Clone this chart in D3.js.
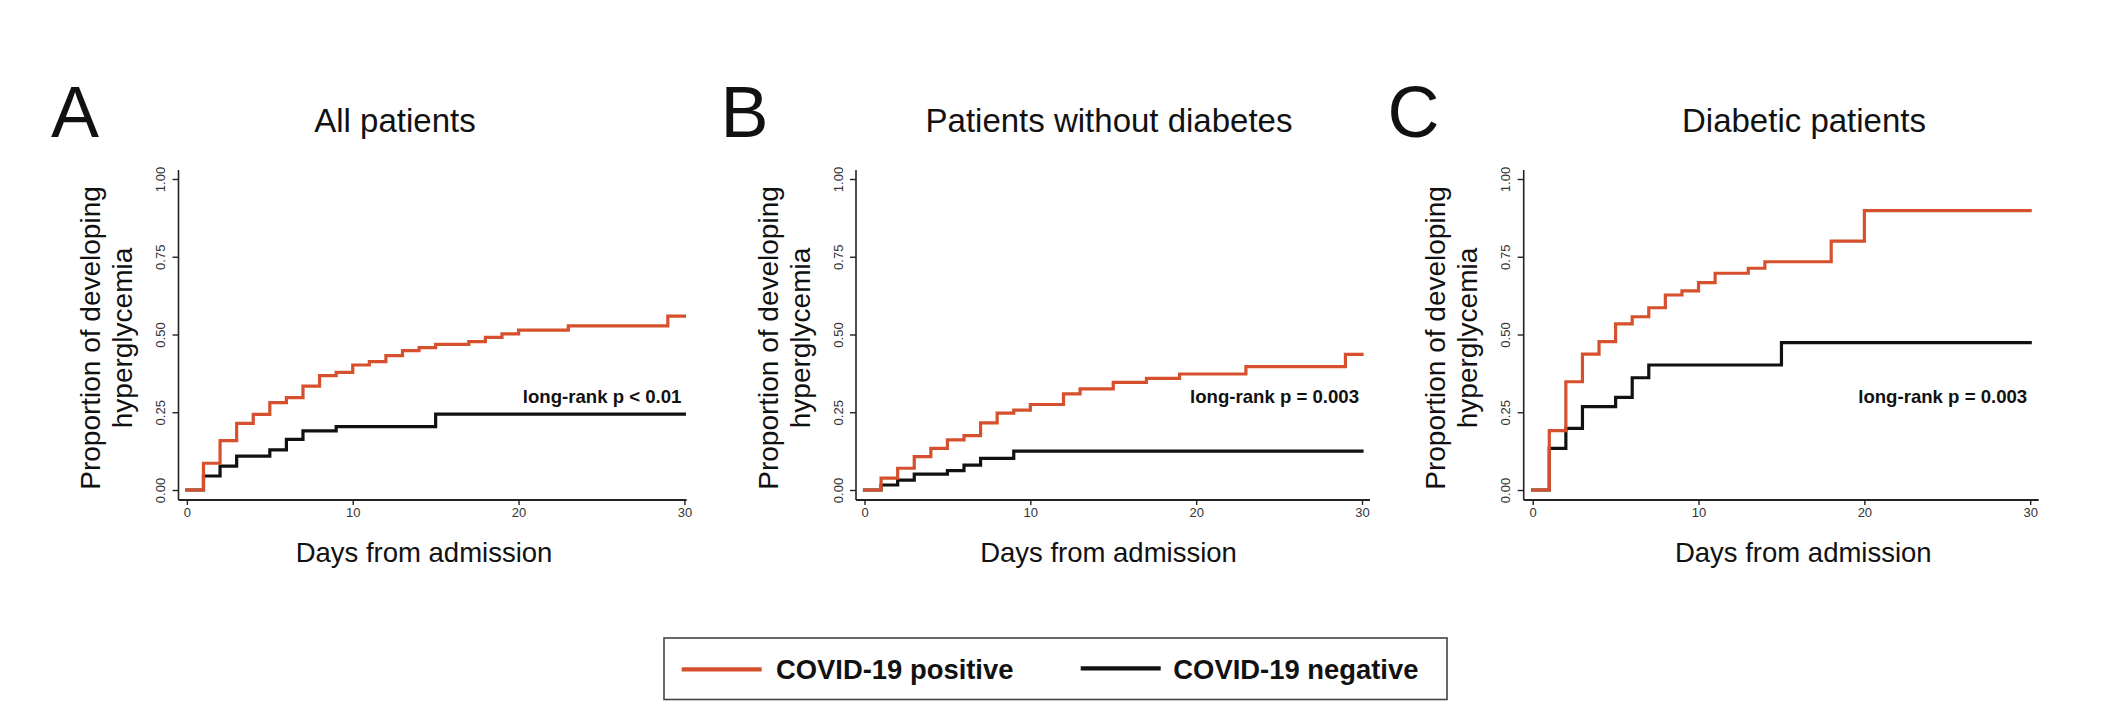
<!DOCTYPE html>
<html>
<head>
<meta charset="utf-8">
<script src="https://cdn.jsdelivr.net/npm/d3@7"></script>
<style>
  html, body { margin: 0; padding: 0; background: #fff; }
  svg { display: block; font-family: "Liberation Sans", Arial, Helvetica, sans-serif; }
</style>
</head>
<body>
<svg id="chart" width="2118" height="718"></svg>
<script>
// ---------------- DATA ----------------
const panelLetters = ["A", "B", "C"];
const panelTitles = ["All patients", "Patients without diabetes", "Diabetic patients"];
const pValueLabels = ["long-rank p < 0.01", "long-rank p = 0.003", "long-rank p = 0.003"];
const seriesNames = ["COVID-19 positive", "COVID-19 negative"];
const xTickValues = [0, 10, 20, 30];
const yTickValues = [0, 0.25, 0.50, 0.75, 1.00];
const xAxisTitle = "Days from admission";
const yAxisTitleLines = ["Proportion of developing", "hyperglycemia"];

// Panel A: all patients
const daysA_pos = [0, 1, 2, 3, 4, 5, 6, 7, 8, 9, 10, 11, 12, 13, 14, 15, 17, 18, 19, 20, 23, 29, 30];
const propA_pos = [0, 0.086, 0.159, 0.214, 0.243, 0.281, 0.297, 0.334, 0.368, 0.378, 0.402, 0.413, 0.432, 0.448, 0.458, 0.468, 0.477, 0.491, 0.502, 0.514, 0.528, 0.559, 0.559];
const daysA_neg = [0, 1, 2, 3, 5, 6, 7, 9, 15, 30];
const propA_neg = [0, 0.045, 0.077, 0.109, 0.129, 0.163, 0.190, 0.204, 0.244, 0.244];

// Panel B: patients without diabetes
const daysB_pos = [0, 1, 2, 3, 4, 5, 6, 7, 8, 9, 10, 12, 13, 15, 17, 19, 23, 29, 30];
const propB_pos = [0, 0.038, 0.070, 0.107, 0.134, 0.161, 0.175, 0.216, 0.247, 0.257, 0.275, 0.309, 0.325, 0.346, 0.359, 0.373, 0.397, 0.436, 0.436];
const daysB_neg = [0, 1, 2, 3, 5, 6, 7, 9, 30];
const propB_neg = [0, 0.016, 0.032, 0.051, 0.062, 0.080, 0.102, 0.125, 0.125];

// Panel C: diabetic patients
const daysC_pos = [0, 1, 2, 3, 4, 5, 6, 7, 8, 9, 10, 11, 13, 14, 18, 20, 30];
const propC_pos = [0, 0.191, 0.348, 0.437, 0.477, 0.534, 0.557, 0.586, 0.627, 0.640, 0.667, 0.697, 0.713, 0.734, 0.800, 0.898, 0.898];
const daysC_neg = [0, 1, 2, 3, 5, 6, 7, 15, 30];
const propC_neg = [0, 0.134, 0.198, 0.268, 0.298, 0.361, 0.402, 0.474, 0.474];

// ---------------- LAYOUT / STYLE ----------------
const colors = { pos: "#d6502d", neg: "#111111" };
const layout = [
  { axisX: 178.5, x0: 186.9, xEnd: 686.6, titleX: 395, xLabelX: 424, letterX: 51 },
  { axisX: 856.0, x0: 864.5, xEnd: 1370, titleX: 1109, xLabelX: 1108.5, letterX: 720.5 },
  { axisX: 1523.7, x0: 1532.7, xEnd: 2038.7, titleX: 1804, xLabelX: 1803.3, letterX: 1387.5 }
];
const plotWidth = 497.5;   // pixels for 30 days
const yTop = 179, yZero = 490, axisBottomY = 500, axisTopY = 170;

const seriesData = [
  { pos: [daysA_pos, propA_pos], neg: [daysA_neg, propA_neg] },
  { pos: [daysB_pos, propB_pos], neg: [daysB_neg, propB_neg] },
  { pos: [daysC_pos, propC_pos], neg: [daysC_neg, propC_neg] }
];

const svg = d3.select("#chart");
const y = d3.scaleLinear().domain([0, 1]).range([yZero, yTop]);

layout.forEach((L, i) => {
  const x = d3.scaleLinear().domain([0, 30]).range([L.x0, L.x0 + plotWidth]);
  const g = svg.append("g");

  // panel letter
  g.append("text").attr("x", L.letterX).attr("y", 137)
    .attr("font-size", 72).attr("fill", "#111").text(panelLetters[i]);

  // title
  g.append("text").attr("x", L.titleX).attr("y", 131.5)
    .attr("text-anchor", "middle").attr("font-size", 33).attr("fill", "#111")
    .text(panelTitles[i]);

  // axis lines
  g.append("line").attr("x1", L.axisX).attr("x2", L.axisX)
    .attr("y1", axisTopY).attr("y2", axisBottomY)
    .attr("stroke", "#222").attr("stroke-width", 1.6);
  g.append("line").attr("x1", L.axisX).attr("x2", L.xEnd)
    .attr("y1", axisBottomY).attr("y2", axisBottomY)
    .attr("stroke", "#222").attr("stroke-width", 2.2);

  // x axis (ticks + labels)
  const xAxis = d3.axisBottom(x).tickValues(xTickValues).tickSize(5).tickSizeOuter(0).tickPadding(3);
  const gx = g.append("g").attr("transform", `translate(0,${axisBottomY})`).call(xAxis);
  gx.select(".domain").remove();
  gx.selectAll(".tick line").attr("stroke", "#222").attr("stroke-width", 1.4);
  gx.selectAll(".tick text").attr("font-size", 13).attr("fill", "#333")
    .attr("font-family", "Liberation Sans, Arial, sans-serif");

  // y axis ticks
  const yAxis = d3.axisLeft(y).tickValues(yTickValues).tickSize(6).tickSizeOuter(0)
    .tickFormat(d3.format(".2f"));
  const gy = g.append("g").attr("transform", `translate(${L.axisX},0)`).call(yAxis);
  gy.select(".domain").remove();
  gy.selectAll(".tick line").attr("stroke", "#222").attr("stroke-width", 1.4);
  gy.selectAll(".tick text")
    .attr("x", null).attr("dy", null)
    .attr("text-anchor", "middle")
    .attr("transform", "translate(-13.5,0) rotate(-90)")
    .attr("font-size", 13).attr("fill", "#333")
    .attr("font-family", "Liberation Sans, Arial, sans-serif");

  // y-axis title (two lines)
  yAxisTitleLines.forEach((t, k) => {
    g.append("text")
      .attr("transform", `translate(${L.axisX - 78.5 + k * 32},338) rotate(-90)`)
      .attr("text-anchor", "middle").attr("font-size", 28).attr("fill", "#111")
      .text(t);
  });

  // x-axis title
  g.append("text").attr("x", L.xLabelX).attr("y", 561.5)
    .attr("text-anchor", "middle").attr("font-size", 27.5).attr("fill", "#111")
    .text(xAxisTitle);

  // curves: negative first, positive on top
  const line = d3.line().x(d => x(d[0])).y(d => y(d[1])).curve(d3.curveStepAfter);
  ["neg", "pos"].forEach(key => {
    const [days, prop] = seriesData[i][key];
    const pts = days.map((d, j) => [d, prop[j]]);
    g.append("path").attr("d", line(pts))
      .attr("fill", "none").attr("stroke", colors[key])
      .attr("stroke-width", 3.2).attr("stroke-linejoin", "miter").attr("stroke-linecap", "square");
  });

  // p-value annotation
  g.append("text").attr("x", x(30) - 3).attr("y", 403)
    .attr("text-anchor", "end").attr("font-size", 18.6).attr("font-weight", "bold")
    .attr("fill", "#111").text(pValueLabels[i]);
});

// ---------------- LEGEND ----------------
const lg = svg.append("g");
lg.append("rect").attr("x", 664).attr("y", 638).attr("width", 783).attr("height", 61.5)
  .attr("fill", "#fff").attr("stroke", "#444").attr("stroke-width", 1.6);
const legendItems = [
  { key: "pos", lx: 681.7, tx: 776, ly: 669.3 },
  { key: "neg", lx: 1080.7, tx: 1173.3, ly: 668.3 }
];
legendItems.forEach((it, k) => {
  lg.append("line").attr("x1", it.lx).attr("x2", it.lx + 80)
    .attr("y1", it.ly).attr("y2", it.ly)
    .attr("stroke", colors[it.key]).attr("stroke-width", 4.2);
  lg.append("text").attr("x", it.tx).attr("y", 678.5)
    .attr("font-size", 27.4).attr("font-weight", "bold").attr("fill", "#111")
    .text(seriesNames[k]);
});
</script>
</body>
</html>
